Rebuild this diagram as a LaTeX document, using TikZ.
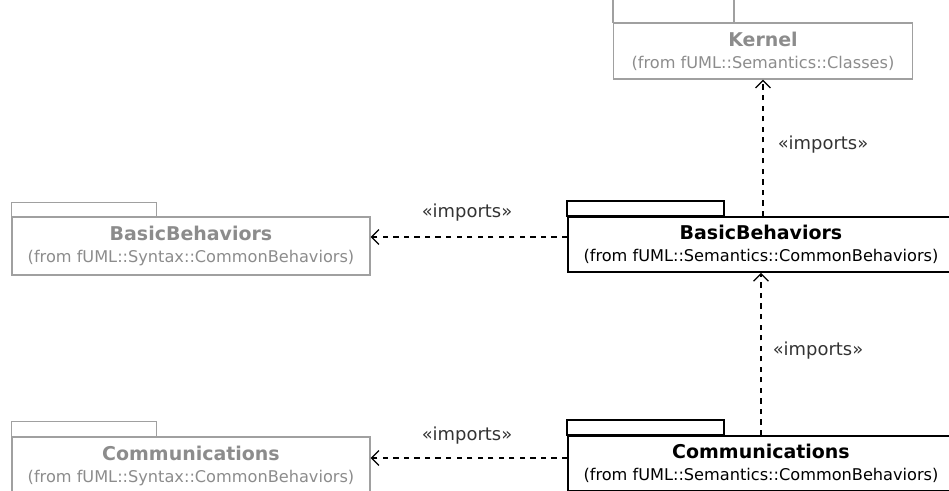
\documentclass[tikz,border=0pt]{standalone}
\usepackage{fontspec}
\setmainfont{DejaVu Sans}
\usetikzlibrary{arrows.meta,positioning}
\definecolor{faded}{HTML}{8C8C8C}
\definecolor{fadeline}{HTML}{A0A0A0}
\newcommand{\pkgtitle}[1]{{\fontsize{10.8}{12.5}\selectfont\bfseries #1}}

\begin{document}
\begin{tikzpicture}[
  pkg/.style={draw,line width=0.9pt,minimum width=7.72cm,minimum height=1.1cm,align=center,inner sep=0pt,font=\fontsize{9.2}{12.5}\selectfont},
  pkgfade/.style={pkg,draw=fadeline,line width=0.6pt,text=faded},
  imp/.style={dashed,line width=0.75pt,-{Straight Barb[length=1.5mm,width=3mm]}},
  lbl/.style={font=\fontsize{10.2}{11}\selectfont,text=black!80}]
  \useasboundingbox (0,0) rectangle (18.98,9.8);
  \clip (0,0) rectangle (18.98,9.8);
  % packages
  \node[pkgfade,minimum width=5.98cm,minimum height=1.12cm] (kern) at (15.26,8.78) {\pkgtitle{Kernel}\\(from fUML::Semantics::Classes)};
  \node[pkg] (bbR) at (15.22,4.91) {\pkgtitle{BasicBehaviors}\\(from fUML::Semantics::CommonBehaviors)};
  \node[pkgfade,minimum width=7.16cm,minimum height=1.16cm] (bbL) at (3.82,4.88) {\pkgtitle{BasicBehaviors}\\(from fUML::Syntax::CommonBehaviors)};
  \node[pkg] (comR) at (15.22,0.53) {\pkgtitle{Communications}\\(from fUML::Semantics::CommonBehaviors)};
  \node[pkgfade,minimum width=7.16cm,minimum height=1.16cm] (comL) at (3.82,0.48) {\pkgtitle{Communications}\\(from fUML::Syntax::CommonBehaviors)};
  % tabs
  \draw[fadeline,line width=0.6pt] (kern.north west) rectangle ++(2.42,0.5);
  \draw[line width=0.9pt] (bbR.north west) rectangle ++(3.14,0.3);
  \draw[fadeline,line width=0.6pt] (bbL.north west) rectangle ++(2.9,0.28);
  \draw[line width=0.9pt] (comR.north west) rectangle ++(3.14,0.3);
  \draw[fadeline,line width=0.6pt] (comL.north west) rectangle ++(2.9,0.3);
  % imports
  \draw[imp] (bbR.north -| kern.south) -- (kern.south);
  \draw[imp] (comR.north) -- (bbR.south);
  \draw[imp] ([yshift=1.5mm]bbR.west) coordinate (u) -- (u -| bbL.east);
  \draw[imp] ([yshift=1.1mm]comR.west) coordinate (v) -- (v -| comL.east);
  \node[lbl] (impK) at (16.46,6.9) {«imports»};
  \node[lbl] (impB) at (16.36,2.78) {«imports»};
  \node[lbl] (impBL) at (9.34,5.54) {«imports»};
  \node[lbl] (impCL) at (9.34,1.08) {«imports»};
\end{tikzpicture}
\end{document}
